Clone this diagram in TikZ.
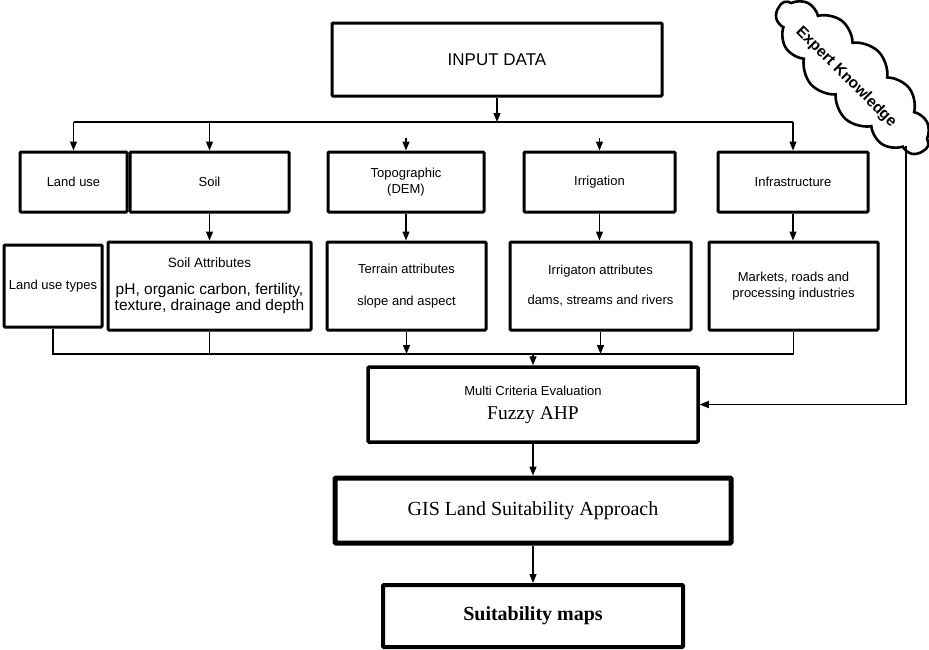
\documentclass[tikz,border=0pt]{standalone}
\usepackage{fontspec}
\setmainfont{Liberation Serif}
\setsansfont{Liberation Sans}
\usetikzlibrary{arrows.meta,shapes.symbols}
\begin{document}
\begin{tikzpicture}[x=1pt,y=-1pt,
  box/.style={draw, line width=3pt, rectangle, rounded corners=1pt, align=center, inner sep=0pt,
              font=\sffamily\fontsize{13}{16}\selectfont},
  conn/.style={line width=1.3pt},
  arr/.style={conn, -{Triangle[length=9pt,width=7pt]}},
]
\useasboundingbox (0,0) rectangle (929,649);

% top
\node[box, minimum width=330pt, minimum height=73pt, font=\sffamily\fontsize{17}{20}\selectfont] (input) at (497,59.5) {INPUT DATA};

% row 1
\node[box, minimum width=107pt, minimum height=60pt] (landuse) at (73.5,182) {Land use};
\node[box, minimum width=159pt, minimum height=60pt] (soil) at (209.5,182) {Soil};
\node[box, minimum width=156pt, minimum height=60pt] (topo) at (406,182) {Topographic\\(DEM)};
\node[box, minimum width=151pt, minimum height=60pt] (irrig) at (599.5,182) {Irrigation};
\node[box, minimum width=150pt, minimum height=60pt] (infra) at (793,182) {Infrastructure};

% row 2
\node[box, minimum width=98pt, minimum height=82pt] (lut) at (53,286) {Land use types};
\node[box, minimum width=203pt, minimum height=88pt] (soilattr) at (209.5,286)
  {{\fontsize{13.5}{16}\selectfont Soil Attributes}\\[11pt]{\fontsize{15.5}{16}\selectfont pH, organic carbon, fertility,}\\{\fontsize{15.5}{16}\selectfont texture, drainage and depth}};
\node[box, minimum width=159pt, minimum height=88pt] (terrain) at (406.5,286) {Terrain attributes\\[16pt]slope and aspect};
\node[box, minimum width=181pt, minimum height=88pt] (irrattr) at (600.5,286) {Irrigaton attributes\\[14pt]dams, streams and rivers};
\node[box, minimum width=169pt, minimum height=88pt] (markets) at (793.5,286) {Markets, roads and\\processing industries};

% bottom chain
\node[box, line width=3.5pt, minimum width=330pt, minimum height=75pt] (mce) at (533,404.5)
  {{\fontsize{13}{14}\selectfont Multi Criteria Evaluation}\\[8pt]{\rmfamily\fontsize{19.5}{22}\selectfont Fuzzy AHP}};
\node[box, line width=5pt, minimum width=396pt, minimum height=65pt, font=\rmfamily\fontsize{20}{24}\selectfont] (gis) at (533,510.5) {GIS Land Suitability Approach};
\node[box, line width=4pt, minimum width=300pt, minimum height=62pt, font=\rmfamily\bfseries\fontsize{20}{24}\selectfont] (maps) at (533,616) {Suitability maps};

% expert knowledge cloud
\node[cloud, draw, line width=2.6pt, cloud puffs=13, cloud puff arc=105, cloud ignores aspect,
      minimum width=205pt, minimum height=72pt, rotate=-45, inner sep=0pt] (ekcloud) at (853,77) {};
\node[rotate=-45, inner sep=0pt, font=\sffamily\bfseries\fontsize{15.5}{18}\selectfont] (ektext) at (846,77) {Expert Knowledge};
\coordinate (ekout) at (906,146);

% connectors: top bus
\coordinate (busL) at (73.5,122);
\coordinate (busR) at (793,122);
\draw[conn] (busL) -- (busR);
\draw[arr] (input.south) -- (input.south |- busL);
\draw[arr] (busL) -- (landuse.north);
\draw[arr] (soil.north |- busL) -- (soil.north);
\draw[arr] (busR) -- (infra.north);
\coordinate (topostub) at (406,138);
\coordinate (irrstub) at (599.5,138);
\draw[arr] (topostub) -- (topo.north);
\draw[arr] (irrstub) -- (irrig.north);

% row1 -> row2
\draw[arr] (soil.south) -- (soil.south |- soilattr.north);
\draw[arr] (topo.south) -- (topo.south |- terrain.north);
\draw[arr] (irrig.south) -- (irrig.south |- irrattr.north);
\draw[arr] (infra.south) -- (infra.south |- markets.north);

% bottom bus
\coordinate (busB) at (533,354);
\draw[conn] (lut.south) -- (lut.south |- busB) -- (markets.south |- busB) -- (markets.south);
\draw[conn] (soilattr.south) -- (soilattr.south |- busB);
\draw[arr] (terrain.south) -- (terrain.south |- busB);
\draw[arr] (irrattr.south) -- (irrattr.south |- busB);
\draw[arr] (busB) -- (mce.north);

% chain
\draw[arr] (mce.south) -- (gis.north);
\draw[arr] (gis.south) -- (maps.north);

% expert knowledge link
\draw[arr] (ekout) |- (mce.east);
\end{tikzpicture}
\end{document}
